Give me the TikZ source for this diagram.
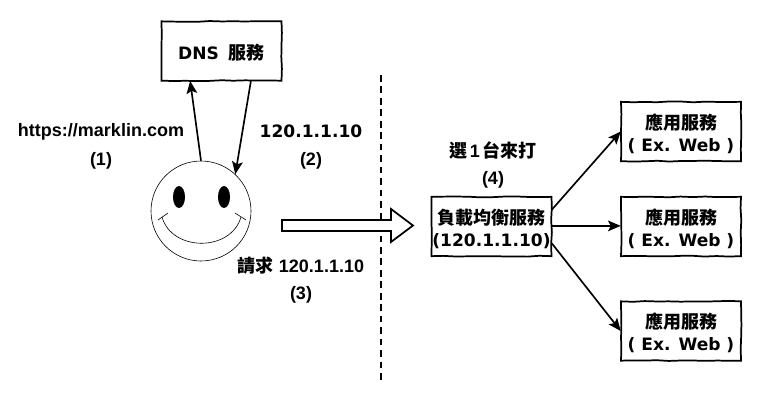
\documentclass[tikz,border=0pt]{standalone}
\usepackage{fontspec}
\setmainfont{Liberation Sans}
\newfontfamily\zhfont{Noto Sans CJK TC}
\newfontfamily\handfont{DejaVu Sans}
\usetikzlibrary{calc,decorations.pathmorphing,arrows.meta,shapes.geometric}
\newcommand{\zh}[1]{{\zhfont\bfseries #1}}
\newcommand{\hd}[1]{{\handfont\bfseries\fontsize{12.8pt}{15pt}\selectfont #1}}
\newcommand{\low}{\rule{0pt}{14.5pt}}
\tikzset{
  sketch/.style={draw,line width=1.3pt,decorate,decoration={random steps,segment length=9pt,amplitude=.35pt}},
  boxnode/.style={minimum width=90pt,minimum height=44.5pt,inner sep=0pt,align=center,font=\fontsize{13.5pt}{16.5pt}\selectfont,
    postaction={sketch}},
  textlabel/.style={inner sep=0pt,font=\bfseries\fontsize{13.5pt}{16pt}\selectfont,align=center},
  link/.style={line width=1.25pt,-{Stealth[length=9.5pt,width=8pt,inset=2pt]}},
  facepart/.style={draw,line width=.45pt},
  eye/.style={fill=black,ellipse,minimum width=9pt,minimum height=16.5pt,inner sep=0pt}
}
\begin{document}
\begin{tikzpicture}[x=.75pt,y=-.75pt]
\useasboundingbox (0,0) rectangle (782,412);
% divider
\draw[line width=1pt,dash pattern=on 5pt off 3.6pt] (381,75) -- (381,382);
% boxes
\node[boxnode] (dns) at (221.5,51) {\low\hd{DNS}\ \ \zh{服務}};
\node[boxnode] (lb) at (491.5,226.5) {\low\zh{負載均衡服務}\\\hd{(120.1.1.10)}};
\node[boxnode] (app1) at (681,131.5) {\low\zh{應用服務}\\\hd{( Ex. Web )}};
\node[boxnode] (app2) at (681,226.5) {\low\zh{應用服務}\\\hd{( Ex. Web )}};
\node[boxnode] (app3) at (681,331) {\low\zh{應用服務}\\\hd{( Ex. Web )}};
% face
\node[circle,facepart,minimum size=75pt,inner sep=0pt] (face) at (201,211) {};
\node[eye] (eyeL) at (179,197) {};
\node[eye] (eyeR) at (224,197) {};
\draw[facepart] (162,217) .. controls (172,252) and (231,252) .. (241,217);
\draw[facepart] (158,220) -- (168,213);
\draw[facepart] (235,213) -- (246,220);
% block arrow
\path[draw,fill=white,line width=1.3pt,line join=miter]
  (282,220) -- (391,220) -- (391,209) -- (413,225.5) -- (391,242) -- (391,231) -- (282,231) -- cycle;
% connectors
\draw[link] (face.north) -- ($(dns.south west)!.24!(dns.south east)$);
\draw[link] ($(dns.south west)!.744!(dns.south east)$) -- (face.47);
\draw[link] ($(lb.north east)!.22!(lb.south east)$) -- (app1.west);
\draw[link] ($(lb.north east)!.49!(lb.south east)$) -- ($(app2.north west)!.49!(app2.south west)$);
\draw[link] ($(lb.north east)!.78!(lb.south east)$) -- (app3.west);
% labels
\node[textlabel] (t1) at (101,132) {https://marklin.com};
\node[textlabel] (n1) at (101,161) {(1)};
\node[textlabel] (t2) at (311,131) {\hd{120.1.1.10}};
\node[textlabel] (n2) at (311,161) {(2)};
\node[textlabel] (t3) at (301,266) {\zh{請求} 120.1.1.10};
\node[textlabel] (n3) at (301,295) {(3)};
\node[textlabel] (t4) at (493,150) {\zh{選}\hspace{2pt}1\hspace{2pt}\zh{台來打}};
\node[textlabel] (n4) at (493,180) {(4)};
\end{tikzpicture}
\end{document}
